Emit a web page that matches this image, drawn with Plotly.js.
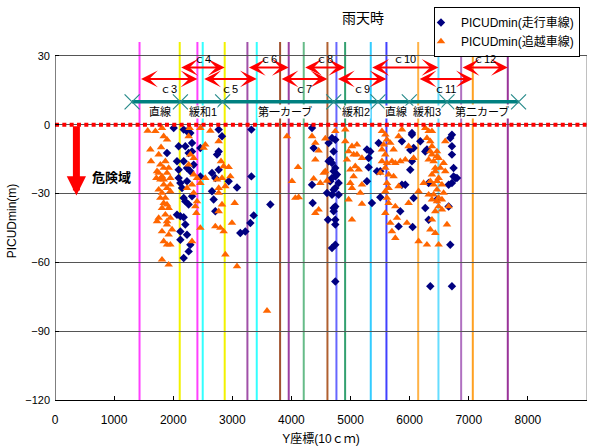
<!DOCTYPE html>
<html><head><meta charset="utf-8">
<script src="https://cdn.plot.ly/plotly-3.0.1.min.js"></script>
<style>html,body{margin:0;padding:0;background:#fff}#chart{width:600px;height:447px}</style>
</head><body><div id="chart"></div>
<script>
// ---- data: PICUDmin (走行車線)
const navyX = [2008,2177,2233,2290,2318,2205,2092,1895,2261,2318,2177,2064,2092,2233,2346,2290,2092,2121,2149,2233,2177,2318,2261,2205,2121,2064,2177,2205,2121,2233,2121,2290,2261,2177,2459,2769,2825,2769,2741,2656,2769,2712,2656,2684,2712,3079,2938,3135,2459,
3322,4348,4376,4686,4742,4629,4714,4657,4686,4742,4714,4742,4686,4657,4798,4742,4714,4601,4686,4798,3322,4348,3643,4359,4742,4714,4618,4742,4742,3361,3305,3220,4742,4686,4742,4629,4770,4714,
5475,5277,5334,5869,6038,6067,6038,6010,5306,5306,5447,5277,5503,5869,5926,5503,5362,5841,5813,6050,
6039,6180,6011,6264,6292,6715,6715,6715,6743,6772,6715,6659,6067,6264,6321,6659,6687,6321,6349,6715,6462,6800,6743,6687];
const navyY = [-1.4,-2.1,-2.8,-3.6,-7.9,-9.4,-9.4,-12.3,-12.3,-11.6,-15.9,-15.9,-19.6,-18.8,-17.4,-20.3,-23.2,-25.4,-27.6,-24.6,-31.9,-31.2,-34.8,-33.4,-39.9,-39.2,-40.3,-43.5,-46.5,-47.9,-50.1,-52.3,-55.2,-58.1,-10.1,-2.1,-5.0,-11.6,-13.0,-21.0,-19.6,-23.2,-29.0,-32.6,-37.7,-27.3,-24.6,-47.2,-22.5,
-2.1,-1.4,-10.1,-5.8,-6.5,-7.9,-11.6,-15.2,-16.7,-18.8,-20.3,-22.5,-23.2,-24.6,-25.4,-27.6,-28.3,-29.7,-30.5,-30.5,-22.5,-26.1,-34.8,-34.1,-35.6,-37.7,-41.4,-41.4,-43.5,-39.5,-42.8,-46.5,-52.3,-53.7,-68.3,-15.9,-21.7,-36.3,
-7.9,-10.8,-11.6,-7.2,-4.3,-10.1,-15.9,-19.6,-14.5,-18.5,-20.3,-24.6,-20.3,-26.1,-26.1,-31.6,-34.1,-37.7,-44.3,-44.6,
-3.6,-7.2,-11.0,-11.6,-10.8,-4.3,-9.4,-13.0,-18.8,-23.2,-25.4,-26.1,-31.9,-36.3,-41.4,-35.6,-52.3,-25.4,-70.4,-70.4,-32.6,-23.2,-22.5,-5.8];

// ---- data: PICUDmin (追越車線)
const orangeX = [1568,1698,1810,1613,1794,1895,1839,1624,1754,1782,1726,1715,1810,1895,1951,1867,1923,1839,1895,1754,1951,1782,1839,1895,1810,1754,1867,1951,1895,1810,1923,1839,1895,1951,1810,1923,1726,1895,1980,1839,1782,1867,1810,1923,1839,1754,1951,
2261,2290,2346,2261,2346,2402,2318,2346,2402,2374,2391,2459,2318,2459,2233,2543,2543,2628,2459,2515,2769,2808,2853,2938,2741,2825,2882,2966,2769,2769,2825,2769,2712,2797,2853,2994,2882,3079,2278,3040,3587,
3925,4348,4404,4573,4460,4404,4111,4009,4376,4488,4545,4573,4601,4066,4122,4460,4404,4742,
4911,4911,5024,5108,4967,4939,5052,5108,5193,4996,5080,5137,5052,4996,5024,5193,5165,4967,5193,5024,
5531,5588,5616,5559,5672,5531,5588,5728,5869,5813,5982,5531,5616,5700,5757,5841,5926,5503,5588,5644,5728,5813,5616,5644,5588,5616,5644,5757,5588,5672,5785,5954,5700,5757,5982,
6321,6377,6292,6349,6377,6462,6321,6405,6490,6574,6602,6433,6377,6490,6405,6462,6546,6321,6377,6462,6490,6546,6433,6659,6574,6236,6151,6377,6349,6433,6151,6292,6490,6631,6067,6602,6264,
6349,6433,6518,6405,6490,6349,6462,6377,6546,6462];
const orangeY = [-2.6,-2.8,-1.4,-10.8,-9.8,-6.5,-5.0,-15.9,-13.0,-17.4,-20.3,-23.2,-22.5,-21.0,-23.2,-15.9,-18.8,-26.1,-27.6,-28.3,-29.0,-31.9,-34.1,-34.8,-36.3,-40.6,-39.2,-40.6,-43.5,-46.5,-47.9,-50.8,-52.3,-52.3,-58.8,-61.0,-42.1,-42.1,-45.7,-18.8,-23.9,-31.9,-29.7,-36.3,-23.9,-21.0,-26.1,
-5.0,-13.0,-14.5,-17.4,-21.7,-23.2,-26.1,-29.7,-33.4,-35.6,-38.5,-45.0,-50.8,-25.4,-27.6,-23.2,-8.7,-2.6,-1.4,-10.1,-7.2,-15.9,-18.1,-18.5,-23.9,-23.2,-26.8,-22.5,-27.6,-29.7,-34.8,-37.7,-44.3,-45.0,-46.5,-42.8,-56.6,-61.7,-1.4,-34.1,-81.1,
-5.0,-5.0,-7.9,-6.0,-11.3,-15.2,-18.5,-24.6,-23.5,-25.4,-21.0,-20.3,-24.4,-31.9,-31.6,-37.0,-38.5,-2.8,
-2.1,-7.2,-9.4,-8.7,-11.6,-15.2,-13.0,-13.0,-14.5,-19.6,-18.1,-19.6,-22.5,-25.4,-27.6,-26.1,-29.7,-32.6,-34.5,-41.4,
-2.8,-4.3,-6.5,-8.7,-7.9,-10.8,-13.0,-10.8,-2.1,-5.0,-9.4,-15.9,-16.7,-15.9,-16.7,-15.9,-15.2,-21.0,-18.8,-21.7,-22.5,-26.8,-25.4,-27.6,-29.0,-31.9,-34.1,-35.6,-38.5,-42.8,-40.6,-42.8,-46.5,-49.4,-34.1,
-2.8,-2.8,-5.8,-7.2,-9.4,-11.6,-15.2,-15.9,-14.5,-16.7,-20.3,-18.8,-21.7,-23.2,-26.1,-28.3,-26.1,-30.5,-32.6,-33.4,-35.6,-37.0,-37.7,-35.6,-29.7,-25.4,-29.0,-41.4,-45.7,-47.2,-50.8,-52.3,-52.3,-43.5,-14.5,-7.2,-1.4,
-11.6,-20.3,-18.8,-30.5,-31.9,-24.6,-24.6,-13.0,-32.6,-13.7];

// ---- section boundaries (vertical lines)
const boundaryX = [1430,2110,2409,2499,2871,3255,3413,3808,3954,4208,4609,4761,4908,5342,5607,6144,6487,6871,7068,7660];
const boundaryColor = ['#FF40FF','#F2F200','#FF40FF','#33FFFF','#F2F200','#A050A8','#33FFFF','#A0522D','#9B3FA0','#66BB88','#B06030','#6666FF','#33A070','#33CCFF','#4040FF','#FFB347','#66DDFF','#B070C0','#FFA020','#993399'];

// ---- interval arrows c3..c12
const arrowNames = ['ｃ3','ｃ4','ｃ5','ｃ6','ｃ7','ｃ8','ｃ9','ｃ10','ｃ11','ｃ12'];
const arrowStart = [1430,2110,2499,3255,3808,4208,4761,5342,6144,6871];
const arrowEnd   = [2409,2871,3413,3954,4609,4908,5607,6487,7068,7660];
const arrowLevel = [20,25,20,25,20,25,20,25,20,25];

// ---- road sections
const sectionX = [1304,2121,2836,4715,5464,5994,6631,7842];
const sectionY = [10,10,10,10,10,10,10,10];
const segLabels = ['直線','緩和1','第一カーブ','緩和2','直線','緩和3','第二カーブ'];
const segLabelX = [1784,2510,3896,5096,5769,6298,7223];

// ---- reference line PICUD = 0 and danger arrow
const zeroLineX = [0, 9000];
const zeroLineY = [0, 0];
const dangerX = 362, dangerTop = 0, dangerBottom = -30.8;

const JP = 'Liberation Sans, Noto Sans CJK JP, sans-serif';

const traces = [
  {type:'scatter', mode:'markers', name:'PICUDmin(走行車線)', x:navyX, y:navyY,
   marker:{symbol:'diamond', size:6.5, color:'#000080'}},
  {type:'scatter', mode:'markers', name:'PICUDmin(追越車線)', x:orangeX, y:orangeY,
   marker:{symbol:'triangle-up', size:7.5, color:'#FF6600'}},
  {type:'scatter', mode:'lines', x:zeroLineX, y:zeroLineY, showlegend:false, hoverinfo:'skip',
   line:{color:'#FF0000', width:4, dash:'4px,3.33px'}},
  {type:'scatter', mode:'lines+markers', x:sectionX, y:sectionY, showlegend:false, hoverinfo:'skip',
   line:{color:'#008080', width:3.5},
   marker:{symbol:'x-thin-open', size:15, color:'#2A8C8C', line:{color:'#2A8C8C', width:1.2}}}
];

const shapes = [];
boundaryX.forEach((bx,i)=>{
  shapes.push({type:'line', xref:'x', yref:'y', x0:bx, x1:bx, y0:-120, y1:36.1, layer:'below',
    line:{color:boundaryColor[i], width:2}});
});
shapes.push({type:'line', xref:'x', yref:'y', x0:9000, x1:9000, y0:-120, y1:30, layer:'above', line:{color:'#808080', width:1}});
shapes.push({type:'line', xref:'x', yref:'y', x0:0, x1:0, y0:-120, y1:30, layer:'above', line:{color:'#000000', width:1}});

const annotations = [];
arrowNames.forEach((n,i)=>{
  const yy = arrowLevel[i];
  annotations.push({x:arrowEnd[i], y:yy, ax:arrowStart[i], ay:yy, xref:'x', yref:'y', axref:'x', ayref:'y',
    text:'', showarrow:true, arrowside:'end+start', arrowhead:3, startarrowhead:3,
    arrowsize:1.4, startarrowsize:1.4, arrowwidth:2, arrowcolor:'#FF0000'});
  annotations.push({x:(arrowStart[i]+arrowEnd[i])/2, y: yy===25 ? 28.6 : 15.8, xref:'x', yref:'y',
    text:n, showarrow:false, font:{family:JP, size:11, color:'#000'}});
});
segLabels.forEach((t,i)=>{
  annotations.push({x:segLabelX[i], y:5.7, xref:'x', yref:'y', text:t, showarrow:false,
    bgcolor:'#FFFFFF', borderpad:0, font:{family:JP, size:11, color:'#000'}});
});
annotations.push({x:dangerX, y:dangerBottom, ax:dangerX, ay:dangerTop, xref:'x', yref:'y', axref:'x', ayref:'y',
  text:'', showarrow:true, arrowhead:2, arrowsize:0.55, arrowwidth:7, arrowcolor:'#FF0000'});
annotations.push({x:962, y:-22.6, xref:'x', yref:'y', text:'<b>危険域</b>', showarrow:false,
  font:{family:'Noto Sans CJK JP, sans-serif', size:13, color:'#000'}});

const layout = {
  width:600, height:447,
  margin:{l:55, r:13, t:42, b:47, autoexpand:false},
  paper_bgcolor:'#FFFFFF', plot_bgcolor:'#FFFFFF',
  font:{family:JP, color:'#000'},
  title:{text:'雨天時', x:0.579, xref:'paper', xanchor:'center', y:0.96, yref:'container', yanchor:'middle',
    font:{family:JP, size:14, color:'#000'}},
  showlegend:true,
  legend:{x:0.9868, xanchor:'right', y:1.0978, yanchor:'top', bgcolor:'#FFFFFF', bordercolor:'#000', borderwidth:1,
    font:{family:JP, size:12, color:'#000'}, itemwidth:30, tracegroupgap:0, indentation:-14},
  xaxis:{range:[0,9000], tickvals:[0,1000,2000,3000,4000,5000,6000,7000,8000,9000],
    ticks:'inside', ticklen:4, tickcolor:'#000', showline:true, linecolor:'#000', linewidth:1,
    showgrid:false, zeroline:false, ticklabelstandoff:9,
    tickfont:{family:'Liberation Sans, sans-serif', size:12, color:'#000'},
    title:{text:'Y座標(10ｃｍ)', standoff:8, font:{family:JP, size:12, color:'#000'}}},
  yaxis:{range:[-120,36.1], tickvals:[-120,-90,-60,-30,0,30],
    ticks:'inside', ticklen:4, tickcolor:'#000', showline:false,
    showgrid:true, gridcolor:'#555555', gridwidth:1, zeroline:false, ticklabelstandoff:4,
    tickfont:{family:'Liberation Sans, sans-serif', size:11, color:'#000'},
    title:{text:'PICUDmin(m)', standoff:6, font:{family:JP, size:12, color:'#000'}}},
  shapes:shapes,
  annotations:annotations
};

Plotly.newPlot('chart', traces, layout, {displayModeBar:false, staticPlot:true});
</script>
</body></html>
